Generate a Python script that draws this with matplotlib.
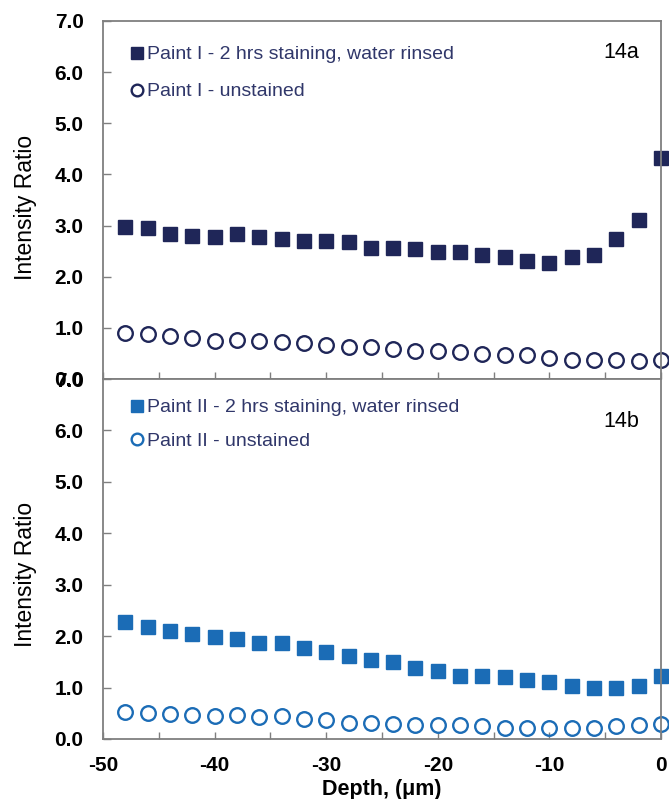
import matplotlib
matplotlib.use("Agg")
import matplotlib.pyplot as plt
from matplotlib.ticker import MultipleLocator, FormatStrFormatter

plt.rcParams["axes.unicode_minus"] = False

depth = [-48, -46, -44, -42, -40, -38, -36, -34, -32, -30, -28, -26, -24,
         -22, -20, -18, -16, -14, -12, -10, -8, -6, -4, -2, 0]

paint1_stained = [2.98, 2.95, 2.84, 2.79, 2.77, 2.84, 2.77, 2.74, 2.69, 2.69,
                  2.67, 2.56, 2.56, 2.54, 2.48, 2.48, 2.43, 2.39, 2.30, 2.27,
                  2.38, 2.43, 2.74, 3.10, 4.32]
paint1_unstained = [0.90, 0.88, 0.85, 0.81, 0.74, 0.77, 0.75, 0.72, 0.70, 0.67,
                    0.62, 0.62, 0.59, 0.55, 0.55, 0.53, 0.49, 0.47, 0.46, 0.41,
                    0.38, 0.37, 0.37, 0.36, 0.38]
paint2_stained = [2.28, 2.18, 2.10, 2.05, 1.99, 1.94, 1.87, 1.87, 1.77, 1.69,
                  1.61, 1.53, 1.50, 1.39, 1.32, 1.23, 1.22, 1.21, 1.14, 1.10,
                  1.04, 0.99, 0.99, 1.03, 1.23]
paint2_unstained = [0.53, 0.51, 0.49, 0.47, 0.45, 0.47, 0.42, 0.44, 0.39, 0.37,
                    0.32, 0.32, 0.29, 0.28, 0.28, 0.27, 0.25, 0.21, 0.21, 0.21,
                    0.21, 0.21, 0.25, 0.27, 0.29]

labels1 = ["Paint I - 2 hrs staining, water rinsed", "Paint I - unstained"]
labels2 = ["Paint II - 2 hrs staining, water rinsed", "Paint II - unstained"]
panel_tags = ["14a", "14b"]

navy = "#1f2658"
blue = "#1b6cb6"
text_navy = "#30376a"
spine_gray = "#7f7f7f"

fig = plt.figure(figsize=(6.69, 7.99), dpi=100)
L, W = 103 / 669, (661 - 103) / 669
ax1 = fig.add_axes([L, 1 - 379 / 799, W, (379 - 21) / 799])
ax2 = fig.add_axes([L, 1 - 739 / 799, W, (739 - 379) / 799])

sans = ["Liberation Sans", "DejaVu Sans"]


def style(ax, show_xlabels, ylab_y):
    ax.set_xlim(-50, 0)
    ax.set_ylim(0, 7)
    ax.xaxis.set_major_locator(MultipleLocator(10))
    ax.xaxis.set_minor_locator(MultipleLocator(5))
    ax.yaxis.set_major_locator(MultipleLocator(1))
    ax.yaxis.set_major_formatter(FormatStrFormatter("%.1f"))
    for s in ax.spines.values():
        s.set_color(spine_gray)
        s.set_linewidth(1.3)
    ax.tick_params(axis="both", which="both", direction="in", color=spine_gray,
                   width=1.0, top=False, right=False)
    ax.tick_params(axis="x", which="both", length=5)
    ax.tick_params(axis="y", which="major", length=6, pad=14)
    ax.tick_params(axis="x", which="major", pad=12)
    for t in ax.get_yticklabels():
        t.set_fontweight("bold"); t.set_fontsize(15); t.set_family(sans)
    if show_xlabels:
        for t in ax.get_xticklabels():
            t.set_fontweight("bold"); t.set_fontsize(15); t.set_family(sans)
    else:
        ax.tick_params(axis="x", labelbottom=False)
    ax.set_ylabel("Intensity Ratio", fontsize=16.5, family=sans)
    ax.yaxis.set_label_coords(-0.118, ylab_y)


style(ax1, False, 0.48)
style(ax2, True, 0.456)

ax1.plot(depth, paint1_stained, ls="none", marker="s", ms=10, color=navy,
         mec=navy, label=labels1[0], clip_on=False)
ax1.plot(depth, paint1_unstained, ls="none", marker="o", ms=10.5, mfc="none",
         mec=navy, mew=1.7, label=labels1[1], clip_on=False)
ax2.plot(depth, paint2_stained, ls="none", marker="s", ms=10, color=blue,
         mec=blue, label=labels2[0], clip_on=False)
ax2.plot(depth, paint2_unstained, ls="none", marker="o", ms=10.5, mfc="none",
         mec=blue, mew=1.7, label=labels2[1], clip_on=False)

for ax, tag, anchor, spacing, tag_y in (
        (ax1, panel_tags[0], (0.014, 0.985), 1.0, 0.911),
        (ax2, panel_tags[1], (0.014, 0.999), 0.8, 0.881)):
    ax.legend(loc="upper left", bbox_to_anchor=anchor, frameon=False,
              markerscale=0.8, handlelength=0.7, handletextpad=0.15,
              labelspacing=spacing, borderaxespad=0.6,
              prop={"family": sans, "size": 14}, labelcolor=text_navy)
    ax.text(0.928, tag_y, tag, transform=ax.transAxes, ha="center", va="center",
            fontsize=15.5, family=sans, color="black")

ax2.set_xlabel("Depth, (\u03bcm)", fontsize=15.5, fontweight="bold",
               family=sans, labelpad=3)

fig.savefig("out.png", dpi=100)
